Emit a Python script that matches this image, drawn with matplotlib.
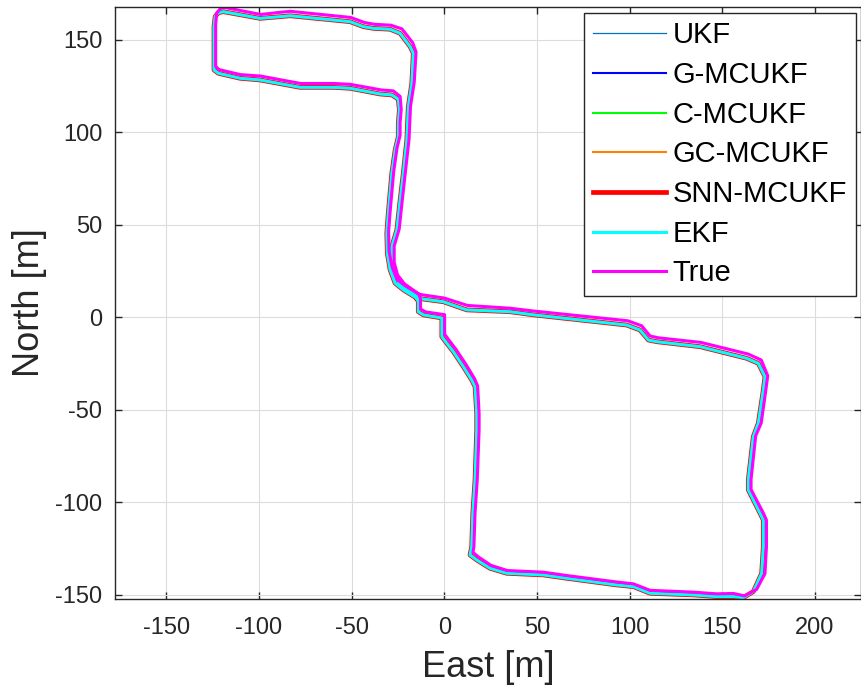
import numpy as np
import matplotlib
matplotlib.use("Agg")
import matplotlib.pyplot as plt

plt.rcParams['font.family'] = ['Liberation Sans', 'DejaVu Sans']
plt.rcParams['axes.unicode_minus'] = False

# filter estimates (all filters lie on top of each other in the figure)
east_est = [-14.8, -0.5, 12.1, 35.5, 48.1, 98.4, 105.6, 110.1, 114.6, 138.0, 163.2, 169.4,
            173.0, 172.1, 169.4, 166.7, 164.0, 164.0, 170.3, 172.1, 172.1, 171.2, 166.7,
            161.3, 155.9, 147.0, 134.4, 111.0, 102.0, 93.0, 66.1, 53.5, 33.7, 24.7, 17.5,
            13.9, 14.8, 15.4, 16.6, 17.5, 17.5, 16.6, 14.8, 10.3, 4.9, 1.3, -1.3, -1.3,
            -11.3, -14.0, -14.0, -14.8, -22.0, -26.5, -29.2, -30.7, -31.0, -30.2, -28.3,
            -26.5, -24.8, -24.8, -24.2, -24.8, -28.3, -34.6, -50.8, -59.8, -77.8, -99.4,
            -110.1, -121.8, -124.2, -124.2, -123.6, -121.8, -119.1, -99.4, -88.6, -83.2,
            -50.8, -43.6, -38.2, -29.2, -23.8, -18.4, -16.7, -17.5, -19.4, -20.2, -22.1,
            -23.8, -25.6, -28.3, -28.3, -26.5, -22.9, -14.8]
north_est = [10.4, 8.5, 4.1, 3.1, 1.4, -4.1, -6.8, -12.2, -13.1, -15.8, -22.1, -24.8,
             -32.0, -39.2, -57.2, -64.4, -87.8, -93.2, -105.8, -109.5, -123.9, -138.3, -148.2,
             -151.5, -150.9, -150.9, -150.0, -149.1, -145.5, -144.6, -141.0, -139.2, -138.3,
             -135.6, -131.1, -128.4, -123.9, -105.8, -87.8, -60.8, -51.8, -37.4, -33.8,
             -26.6, -18.5, -13.9, -10.4, -0.3, 1.4, 3.1, 8.5, 10.4, 14.9, 18.5, 25.7, 34.7,
             45.5, 56.3, 77.9, 90.5, 97.7, 105.0, 112.2, 118.0, 120.3, 120.8, 123.9, 124.4,
             124.4, 128.4, 129.3, 132.0, 133.8, 157.2, 162.6, 164.8, 165.3, 161.7, 162.6,
             163.1, 159.9, 157.2, 156.3, 155.8, 153.6, 146.4, 142.8, 126.6, 113.9, 95.9,
             77.9, 63.5, 47.3, 38.3, 29.3, 22.1, 16.6, 11.6]

# true trajectory
east_true = [-13.5, 0.0, 12.5, 35.5, 48.0, 99.0, 106.5, 111.0, 115.5, 138.5, 164.0, 171.0,
             174.5, 173.5, 171.0, 168.0, 165.5, 165.5, 172.0, 173.8, 173.8, 173.0, 168.5,
             162.0, 156.0, 147.0, 134.5, 111.0, 102.0, 93.0, 66.0, 53.5, 34.0, 25.2, 18.5,
             15.5, 16.0, 16.6, 17.8, 18.8, 18.8, 18.0, 16.3, 11.8, 6.3, 2.8, 0.2, 0.2,
             -10.0, -12.8, -12.8, -13.5, -20.8, -25.5, -28.2, -29.8, -30.0, -29.2, -27.3,
             -25.5, -23.8, -23.8, -23.2, -23.8, -27.5, -34.0, -50.5, -59.5, -77.5, -99.0,
             -110.0, -121.5, -123.3, -123.3, -122.8, -120.5, -118.0, -99.0, -88.3, -83.0,
             -50.5, -43.2, -37.8, -28.8, -22.8, -17.0, -15.2, -16.2, -18.2, -19.0, -21.0,
             -22.6, -24.3, -27.0, -27.0, -25.2, -21.5, -13.5]
north_true = [12.5, 10.5, 6.5, 5.0, 3.5, -1.8, -4.5, -10.0, -11.0, -13.5, -19.8, -23.0,
              -31.5, -39.0, -57.0, -64.0, -87.5, -93.0, -105.5, -109.5, -124.0, -138.5, -147.0,
              -150.5, -149.2, -149.4, -148.5, -147.5, -144.0, -143.0, -139.5, -137.7, -136.8,
              -134.0, -129.5, -127.0, -123.9, -105.8, -87.8, -60.8, -51.8, -37.0, -33.0,
              -25.5, -17.2, -12.6, -9.0, 1.5, 3.0, 4.6, 10.0, 12.5, 17.0, 20.5, 27.5, 36.0,
              46.5, 57.0, 78.5, 91.5, 98.5, 105.5, 112.5, 119.5, 122.5, 123.0, 126.0, 126.5,
              126.5, 130.5, 131.3, 134.0, 135.8, 158.0, 164.5, 167.3, 167.5, 163.8, 165.0,
              165.5, 162.2, 159.5, 158.5, 158.0, 156.0, 148.5, 143.5, 127.0, 114.2, 96.2,
              78.2, 63.8, 47.8, 38.6, 29.8, 23.0, 18.2, 12.5]

labels = ['UKF', 'G-MCUKF', 'C-MCUKF', 'GC-MCUKF', 'SNN-MCUKF', 'EKF', 'True']
colors = ['#0072BD', '#0000FF', '#00FF00', '#FF8000', '#FF0000', '#00FFFF', '#FF00FF']
widths = [0.9, 1.5, 1.5, 1.5, 3.4, 2.2, 2.2]

fig = plt.figure(figsize=(8.62, 6.95), dpi=100)
ax = fig.add_axes([115 / 862, 96 / 695, 746 / 862, 592.3 / 695])

for i, lab in enumerate(labels):
    if lab == 'True':
        ax.plot(east_true, north_true, color=colors[i], lw=widths[i], label=lab)
    else:
        ax.plot(east_est, north_est, color=colors[i], lw=widths[i], label=lab)

ax.set_xlim(-177.6, 224.8)
ax.set_ylim(-152.2, 168)
ax.set_xticks(np.arange(-150, 201, 50))
ax.set_yticks(np.arange(-150, 151, 50))
ax.grid(True, color='#dcdcdc', lw=0.8)
ax.set_axisbelow(True)
ax.tick_params(direction='in', length=5, width=1, colors='#262626', labelsize=17,
               top=True, right=True, pad=9)
ax.tick_params(axis='x', pad=13)
for s in ax.spines.values():
    s.set_color('#262626')
    s.set_linewidth(1)
ax.set_xlabel('East [m]', fontsize=26, color='#262626', labelpad=8)
ax.set_ylabel('North [m]', fontsize=26, color='#262626', labelpad=6)

leg = ax.legend(loc='upper right', bbox_to_anchor=(856 / 862, 1 - 12.7 / 695),
                bbox_transform=fig.transFigure, borderaxespad=0, fontsize=21,
                handlelength=2.5, handletextpad=0.24, labelspacing=0.4,
                borderpad=0.3, fancybox=False, framealpha=1, edgecolor='#262626')
leg.get_frame().set_linewidth(1)

fig.savefig('out.png', dpi=100)
